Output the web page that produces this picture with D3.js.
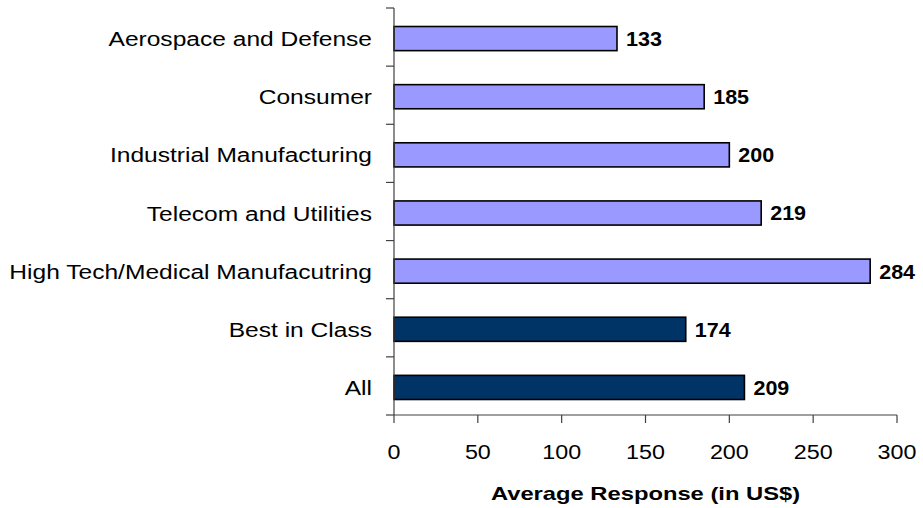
<!DOCTYPE html>
<html>
<head>
<meta charset="utf-8">
<script src="https://cdn.jsdelivr.net/npm/d3@7"></script>
<style>
  html, body { margin: 0; padding: 0; background: #fff; }
  svg { display: block; font-family: "Liberation Sans", Arial, sans-serif; }
</style>
</head>
<body>
<svg id="chart" width="923" height="508"></svg>
<script>
// Average response by segment (US$), top to bottom
const categories = [
  "Aerospace and Defense",
  "Consumer",
  "Industrial Manufacturing",
  "Telecom and Utilities",
  "High Tech/Medical Manufacutring",
  "Best in Class",
  "All"
];
const values = [133, 185, 200, 219, 284, 174, 209];
const groups = ["industry", "industry", "industry", "industry", "industry", "summary", "summary"];
const xTicks = [0, 50, 100, 150, 200, 250, 300];
const xTitle = "Average Response (in US$)";

const colors = { industry: "#9999FF", summary: "#003366" };

const svg = d3.select("#chart");
const plotLeft = 394, plotRight = 897, plotTop = 8, plotBottom = 415;

const x = d3.scaleLinear().domain([0, 300]).range([plotLeft, plotRight]);
const y = d3.scaleBand().domain(categories).range([plotTop, plotBottom])
  .paddingInner(0.585).paddingOuter(0.2925);

const step = y.step();
const axisColor = "#404040";
const barShift = 1.5;

// Bars
svg.append("g").selectAll("rect")
  .data(categories)
  .join("rect")
  .attr("x", x(0))
  .attr("y", d => y(d) + barShift)
  .attr("width", (d, i) => x(values[i]) - x(0))
  .attr("height", y.bandwidth())
  .attr("fill", (d, i) => colors[groups[i]])
  .attr("stroke", "#000")
  .attr("stroke-width", 1.6);

// Value labels
svg.append("g").selectAll("text")
  .data(categories)
  .join("text")
  .attr("transform", (d, i) => `translate(${x(values[i]) + 9},${y(d) + barShift + y.bandwidth() / 2}) scale(1.05,1)`)
  .attr("dy", "0.36em")
  .attr("font-size", 20.5)
  .attr("font-weight", "bold")
  .attr("fill", "#000")
  .text((d, i) => values[i]);

// Y axis: line with ticks at category boundaries
const yAxis = svg.append("g");
yAxis.append("line")
  .attr("x1", plotLeft).attr("x2", plotLeft)
  .attr("y1", plotTop).attr("y2", plotBottom)
  .attr("stroke", axisColor).attr("stroke-width", 1.2);
yAxis.selectAll("line.tick")
  .data(d3.range(categories.length + 1))
  .join("line")
  .attr("class", "tick")
  .attr("x1", plotLeft - 8).attr("x2", plotLeft)
  .attr("y1", i => plotTop + i * step).attr("y2", i => plotTop + i * step)
  .attr("stroke", axisColor).attr("stroke-width", 1.2);

// Category labels
svg.append("g").selectAll("text")
  .data(categories)
  .join("text")
  .attr("transform", d => `translate(372,${y(d) + barShift + y.bandwidth() / 2}) scale(1.17,1)`)
  .attr("dy", "0.36em")
  .attr("text-anchor", "end")
  .attr("font-size", 21)
  .attr("fill", "#000")
  .text(d => d);

// X axis
const xAxis = svg.append("g");
xAxis.append("line")
  .attr("x1", plotLeft).attr("x2", plotRight)
  .attr("y1", plotBottom).attr("y2", plotBottom)
  .attr("stroke", axisColor).attr("stroke-width", 1.2);
xAxis.selectAll("line.tick")
  .data(xTicks)
  .join("line")
  .attr("class", "tick")
  .attr("x1", d => x(d)).attr("x2", d => x(d))
  .attr("y1", plotBottom).attr("y2", plotBottom + 8)
  .attr("stroke", axisColor).attr("stroke-width", 1.2);
xAxis.selectAll("text")
  .data(xTicks)
  .join("text")
  .attr("transform", d => `translate(${x(d)},459) scale(1.11,1)`)
  .attr("text-anchor", "middle")
  .attr("font-size", 21)
  .attr("fill", "#000")
  .text(d => d);

// Axis title
svg.append("text")
  .attr("transform", `translate(${(plotLeft + plotRight) / 2},500) scale(1.25,1)`)
  .attr("text-anchor", "middle")
  .attr("font-size", 19)
  .attr("font-weight", "bold")
  .attr("fill", "#000")
  .text(xTitle);
</script>
</body>
</html>
